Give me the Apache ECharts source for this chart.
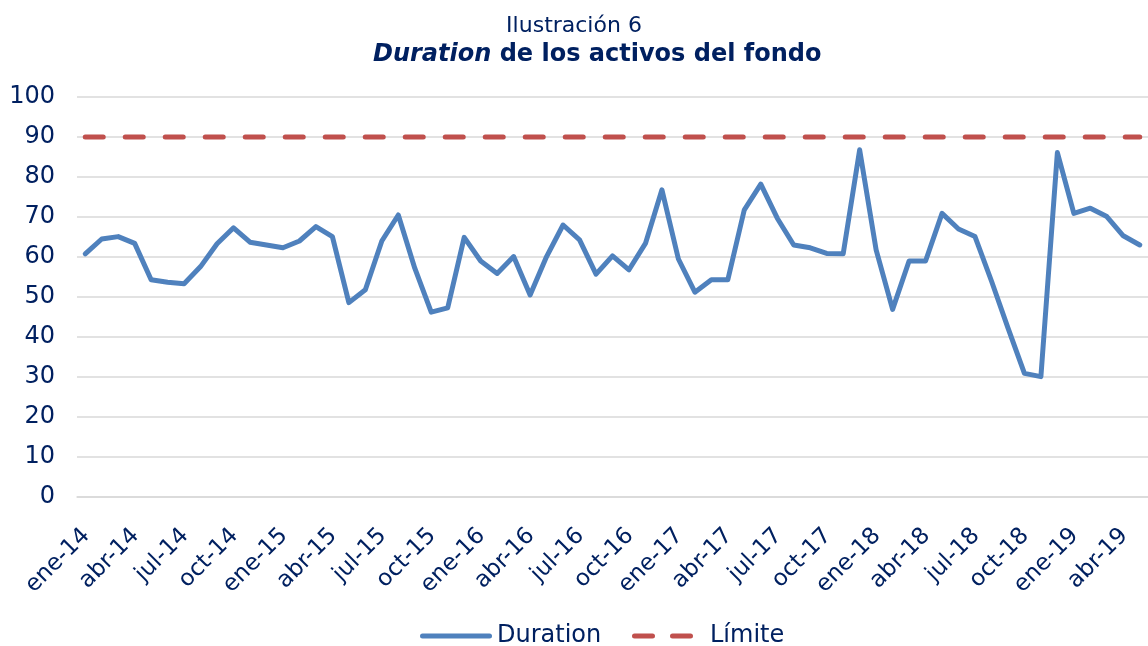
<!DOCTYPE html>
<html>
<head>
<meta charset="utf-8">
<script src="https://cdn.jsdelivr.net/npm/echarts@6/dist/echarts.min.js"></script>
<style>
  html, body { margin: 0; padding: 0; background: #fff; }
  #container { width: 1148px; height: 646px; }
</style>
</head>
<body>
<div id="container"></div>
<script>
var dom = document.getElementById('container');
var myChart = echarts.init(dom, null, { renderer: 'canvas' });

// meses (ene-14 .. may-19)
const meses = [
  'ene-14','feb-14','mar-14','abr-14','may-14','jun-14','jul-14','ago-14','sep-14','oct-14','nov-14','dic-14',
  'ene-15','feb-15','mar-15','abr-15','may-15','jun-15','jul-15','ago-15','sep-15','oct-15','nov-15','dic-15',
  'ene-16','feb-16','mar-16','abr-16','may-16','jun-16','jul-16','ago-16','sep-16','oct-16','nov-16','dic-16',
  'ene-17','feb-17','mar-17','abr-17','may-17','jun-17','jul-17','ago-17','sep-17','oct-17','nov-17','dic-17',
  'ene-18','feb-18','mar-18','abr-18','may-18','jun-18','jul-18','ago-18','sep-18','oct-18','nov-18','dic-18',
  'ene-19','feb-19','mar-19','abr-19','may-19'
];

// duration de los activos
const duration = [
  60.8, 64.5, 65.1, 63.4, 54.3, 53.7, 53.3, 57.6, 63.3, 67.3, 63.7, 63.0,
  62.3, 64.0, 67.6, 65.1, 48.6, 51.8, 64.0, 70.5, 57.2, 46.2, 47.3, 64.9,
  59.0, 55.9, 60.1, 50.5, 60.1, 68.0, 64.3, 55.7, 60.3, 56.8, 63.4, 76.8,
  59.5, 51.2, 54.3, 54.3, 71.8, 78.2, 69.7, 63.0, 62.3, 60.9, 60.8, 86.8,
  61.8, 46.9, 59.0, 59.0, 70.9, 67.0, 65.1, 54.0, 42.3, 30.9, 30.1, 86.1,
  70.9, 72.2, 70.1, 65.3, 63.0
];

// limite
const limite = [
  90, 90, 90, 90, 90, 90, 90, 90, 90, 90, 90, 90,
  90, 90, 90, 90, 90, 90, 90, 90, 90, 90, 90, 90,
  90, 90, 90, 90, 90, 90, 90, 90, 90, 90, 90, 90,
  90, 90, 90, 90, 90, 90, 90, 90, 90, 90, 90, 90,
  90, 90, 90, 90, 90, 90, 90, 90, 90, 90, 90, 90,
  90, 90, 90, 90, 90
];

const navy = '#002060';
const fuente = 'DejaVu Sans';

var option = {
    animation: false,
    textStyle: { fontFamily: fuente },
    title: [
        {
            left: 'center',
            top: 10,
            text: 'Ilustración 6',
            textStyle: { fontFamily: fuente, fontSize: 22, fontWeight: 'normal', color: navy }
        },
        {
            left: 368,
            top: 38,
            text: '{b|Duration}{c| de los activos del fondo}',
            textStyle: {
                rich: {
                    b: { fontFamily: fuente, fontSize: 24, fontWeight: 'bold', fontStyle: 'italic', color: navy },
                    c: { fontFamily: fuente, fontSize: 24, fontWeight: 'bold', color: navy }
                }
            }
        }
    ],
    legend: [
        {
            data: ['Duration'],
            icon: 'path://M2.5,0H69.5A2.5,2.5,0,0,1,69.5,5H2.5A2.5,2.5,0,0,1,2.5,0Z',
            left: 415,
            top: 619,
            itemWidth: 72,
            itemHeight: 5,
            textStyle: { fontFamily: fuente, fontSize: 24, color: navy }
        },
        {
            data: ['Límite'],
            icon: 'path://M2.5,0H20.5A2.5,2.5,0,0,1,20.5,5H2.5A2.5,2.5,0,0,1,2.5,0ZM40.5,0H58.5A2.5,2.5,0,0,1,58.5,5H40.5A2.5,2.5,0,0,1,40.5,0Z',
            left: 627,
            top: 619,
            itemWidth: 61,
            itemHeight: 5,
            textStyle: { fontFamily: fuente, fontSize: 24, color: navy, padding: [0, 0, 0, 12] }
        }
    ],
    grid: {
        left: 77,
        top: 97,
        width: 1083.3,
        height: 400
    },
    xAxis: {
        type: 'category',
        data: meses,
        boundaryGap: true,
        axisLine: { lineStyle: { color: '#D9D9D9', width: 1.5 } },
        axisTick: { interval: 2, length: 8, lineStyle: { color: '#D9D9D9', width: 1.5 } },
        axisLabel: {
            interval: 2,
            rotate: 45,
            margin: 20,
            verticalAlign: 'top',
            padding: [0, 10, 0, 0],
            fontFamily: fuente,
            fontSize: 23,
            color: navy
        },
        splitLine: { show: false }
    },
    yAxis: {
        type: 'value',
        min: 0,
        max: 100,
        interval: 10,
        axisLine: { show: false },
        axisTick: { show: false },
        axisLabel: { margin: 22, fontFamily: fuente, fontSize: 24, color: navy },
        splitLine: { lineStyle: { color: '#D9D9D9', width: 1.5 } }
    },
    series: [
        {
            name: 'Duration',
            type: 'line',
            data: duration,
            symbol: 'none',
            color: '#4F81BD',
            lineStyle: { color: '#4F81BD', width: 5, join: 'round', cap: 'round' },
            z: 3
        },
        {
            name: 'Límite',
            type: 'line',
            data: limite,
            symbol: 'none',
            color: '#C0504D',
            lineStyle: { color: '#C0504D', width: 5, type: [18, 22], cap: 'round' },
            z: 2
        }
    ]
};

myChart.setOption(option);
window.addEventListener('resize', myChart.resize);
</script>
</body>
</html>
